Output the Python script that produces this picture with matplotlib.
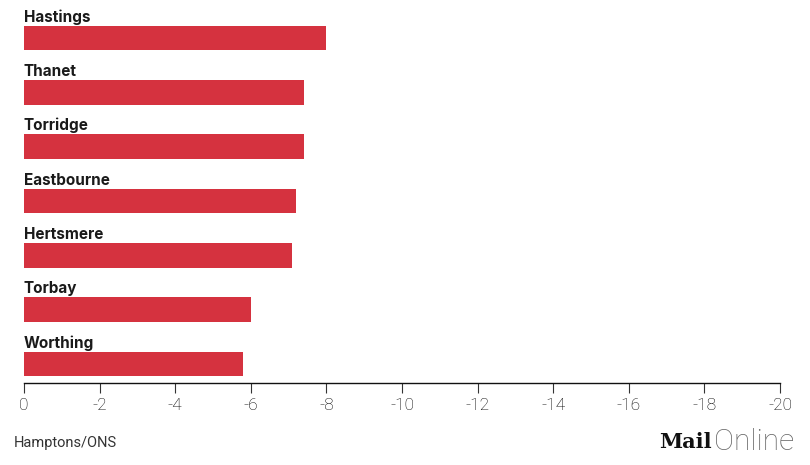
import matplotlib.pyplot as plt
import numpy as np

# data
areas = ['Hastings', 'Thanet', 'Torridge', 'Eastbourne', 'Hertsmere', 'Torbay', 'Worthing']
change = [-8.0, -7.4, -7.4, -7.2, -7.1, -6.0, -5.8]
xticks = [0, -2, -4, -6, -8, -10, -12, -14, -16, -18, -20]
source = 'Hamptons/ONS'

bar_color = '#d5323f'

fig = plt.figure(figsize=(8.1, 4.65), dpi=100)
ax = fig.add_axes([24 / 810, 1 - 383 / 465, 756 / 810, 383 / 465])

y = np.arange(len(areas))
ax.barh(y, change, height=0.45, color=bar_color, edgecolor='none')

# labels above each bar
for yi, name in zip(y, areas):
    ax.annotate(name, xy=(0, yi - 0.225), xytext=(0, 3), textcoords='offset points',
                ha='left', va='baseline', fontsize=11, fontweight='bold',
                family='Inter', color='#1a1a1a')

ax.set_xlim(0, -20)
ax.set_ylim(6.35, -0.7)
ax.set_xticks(xticks)
ax.set_xticklabels([str(t) for t in xticks], family='Roboto', fontweight='light',
                   fontsize=12.5, color='#000000')
ax.tick_params(axis='x', length=7, width=0.8, color='#333333', pad=4)
ax.set_yticks([])

for s in ['top', 'right', 'left']:
    ax.spines[s].set_visible(False)
ax.spines['bottom'].set_color('#111111')
ax.spines['bottom'].set_linewidth(1.0)

# source and logo
fig.text(14 / 810, 1 - 443 / 465, source, family='Roboto', fontsize=10.5,
         color='#333333', ha='left', va='center')
fig.text(712 / 810, 1 - 442 / 465, 'Mail', family='DejaVu Serif', fontweight='bold',
         fontsize=15, color='#111111', ha='right', va='center')
fig.text(714 / 810, 1 - 442 / 465, 'Online', family='Roboto', fontweight='light',
         fontsize=21.5, color='#666666', ha='left', va='center')

fig.savefig('out.png', dpi=100)
